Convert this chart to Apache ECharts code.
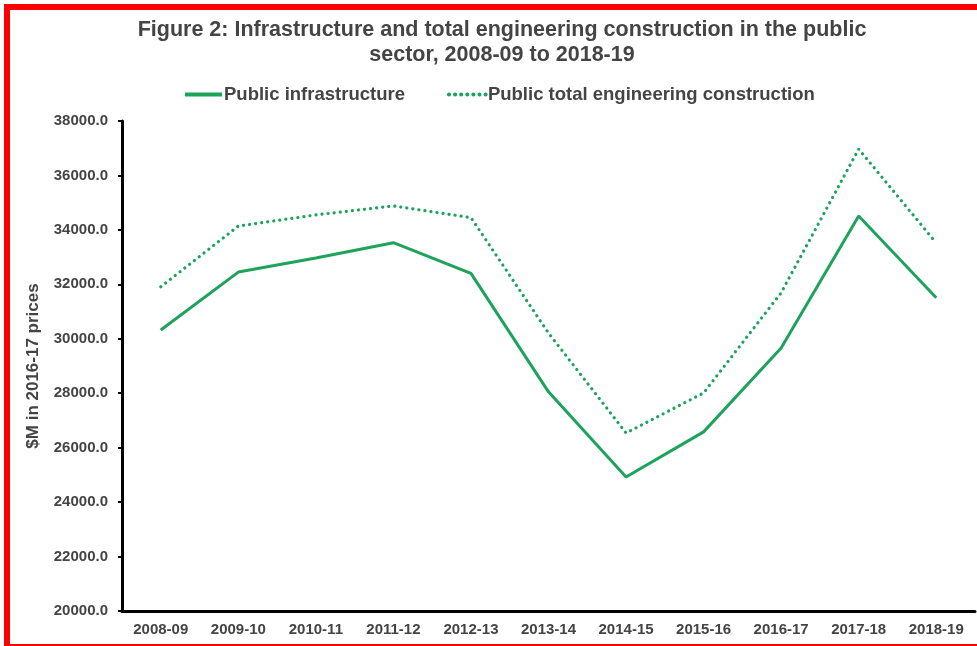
<!DOCTYPE html>
<html>
<head>
<meta charset="utf-8">
<script src="https://cdn.jsdelivr.net/npm/echarts@6/dist/echarts.min.js"></script>
<style>
  html, body { margin: 0; padding: 0; background: #fff; overflow: hidden; }
  #frame {
    position: absolute; left: 4px; top: 4px; width: 990px; height: 642px;
    box-sizing: border-box; border-left: 6px solid #ff0000; border-top: 6px solid #ff0000;
    border-bottom: 2px solid #ff0000;
  }
  #chart { position: absolute; left: 0; top: 0; width: 977px; height: 646px; }
</style>
</head>
<body>
<div id="frame"></div>
<div id="chart"></div>
<script>
// financial years
var years = ["2008-09", "2009-10", "2010-11", "2011-12", "2012-13", "2013-14",
  "2014-15", "2015-16", "2016-17", "2017-18", "2018-19"];
// $M in 2016-17 prices
var publicInfrastructure = [30320, 32450, 32970, 33530, 32400, 28050,
  24920, 26580, 29660, 34510, 31510];
var publicTotalEngineering = [31910, 34140, 34550, 34880, 34450, 30210,
  26540, 28010, 31690, 36970, 33520];

var green = "#1ea35d";
var font = "Liberation Sans Narrow, Arial, Liberation Sans, sans-serif";

var myChart = echarts.init(document.getElementById("chart"));
var option = {
  backgroundColor: "transparent",
  textStyle: { fontFamily: font },
  title: {
    text: "Figure 2: Infrastructure and total engineering construction in the public\nsector, 2008-09 to 2018-19",
    left: 497,
    textAlign: "center",
    top: 13,
    textStyle: { fontSize: 21.5, fontWeight: "bold", color: "#444", lineHeight: 25, fontFamily: font }
  },
  legend: {
    top: 80,
    left: 178,
    itemWidth: 37,
    itemHeight: 10,
    itemGap: 42,
    itemStyle: { opacity: 0 },
    lineStyle: { width: 4 },
    textStyle: { fontSize: 18.5, fontWeight: "bold", color: "#444", fontFamily: font, padding: [0, 0, 0, -3] },
    data: ["Public infrastructure", "Public total engineering construction"]
  },
  grid: { left: 122, right: 2, top: 121, bottom: 35 },
  xAxis: {
    type: "category",
    data: years,
    boundaryGap: true,
    axisLine: { lineStyle: { color: "#000", width: 3 } },
    axisTick: { show: false },
    axisLabel: { fontSize: 15, fontWeight: "bold", color: "#444", margin: 11, fontFamily: font }
  },
  yAxis: {
    type: "value",
    min: 20000,
    max: 38000,
    interval: 2000,
    name: "$M in 2016-17 prices",
    nameLocation: "middle",
    nameGap: 80,
    nameTextStyle: { fontSize: 17, fontWeight: "bold", color: "#444", fontFamily: font },
    axisLine: { show: true, lineStyle: { color: "#000", width: 3 } },
    axisTick: { show: true, length: 4, lineStyle: { color: "#000", width: 2 } },
    splitLine: { show: false },
    axisLabel: {
      fontSize: 15, fontWeight: "bold", color: "#444", margin: 14, fontFamily: font,
      formatter: function (v) { return v.toFixed(1); }
    }
  },
  series: [
    {
      name: "Public infrastructure",
      type: "line",
      symbol: "none",
      data: publicInfrastructure,
      itemStyle: { color: green },
      lineStyle: { color: green, width: 3 }
    },
    {
      name: "Public total engineering construction",
      type: "line",
      symbol: "none",
      data: publicTotalEngineering,
      itemStyle: { color: green },
      lineStyle: { color: green, width: 3.2, type: [0.1, 6], cap: "round" }
    }
  ]
};
option && myChart.setOption(option);
</script>
</body>
</html>
